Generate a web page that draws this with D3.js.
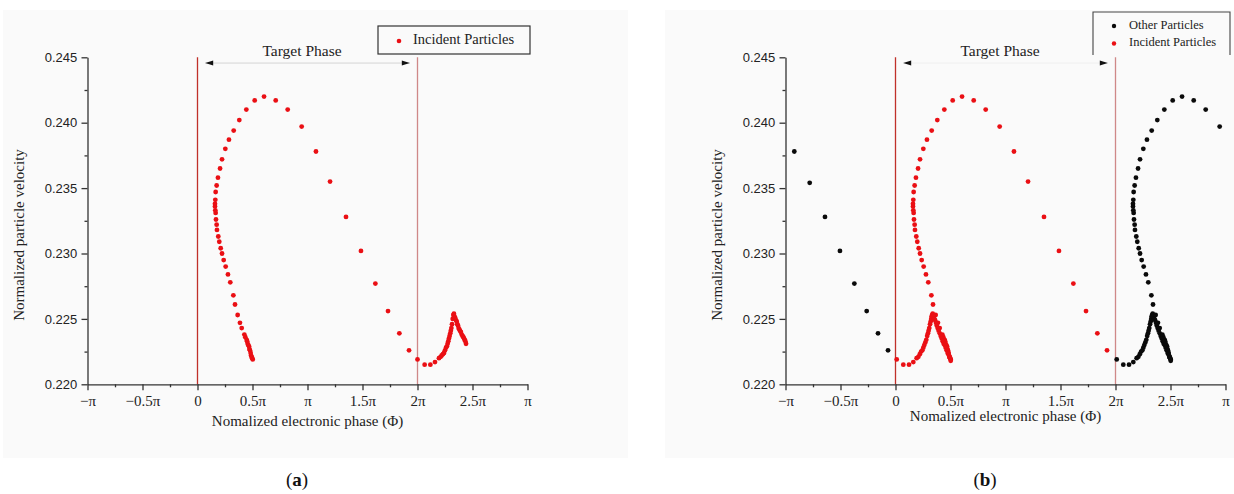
<!DOCTYPE html>
<html>
<head>
<meta charset="utf-8">
<script src="https://cdn.jsdelivr.net/npm/d3@7"></script>
<style>
  body { margin: 0; background: #fff; }
  svg { display: block; }
</style>
</head>
<body>
<svg width="1234" height="494"></svg>
<script>
// x values are phases in units of pi
const phaseTicks = [-1, -0.5, 0, 0.5, 1, 1.5, 2, 2.5, 3];
const phaseLabels = ["−π", "−0.5π", "0", "0.5π", "π", "1.5π", "2π", "2.5π", "π"];
const phaseMinor = [-0.75, -0.25, 0.25, 0.75, 1.25, 1.75, 2.25, 2.75];
const velocityTicks = [0.220, 0.225, 0.230, 0.235, 0.240, 0.245];
const velocityMinor = [0.2225, 0.2275, 0.2325, 0.2375, 0.2425];
const targetPhase = [0, 2];

// big arc of the incident bunch (same in both panels)
const arcPhase = [0.502, 0.497, 0.492, 0.487, 0.483, 0.477, 0.472, 0.468, 0.462, 0.456, 0.451, 0.447,
  0.435, 0.426, 0.402, 0.386, 0.365, 0.341, 0.326, 0.298, 0.277, 0.256, 0.238, 0.223, 0.211, 0.198,
  0.189, 0.177, 0.174, 0.168, 0.165, 0.162, 0.159, 0.159, 0.162, 0.165, 0.174, 0.186, 0.205, 0.223,
  0.253, 0.286, 0.329, 0.380, 0.444, 0.520, 0.605, 0.711, 0.820, 0.947, 1.077, 1.205, 1.350, 1.486,
  1.617, 1.732, 1.835, 1.923];
const arcVelocity = [0.2219, 0.2220, 0.2221, 0.2222, 0.2224, 0.2226, 0.2227, 0.2229, 0.2230, 0.2231, 0.2233, 0.2234,
  0.2236, 0.2238, 0.2243, 0.2247, 0.2253, 0.2261, 0.2268, 0.2278, 0.2284, 0.2290, 0.2295, 0.2300, 0.2304, 0.2309,
  0.2313, 0.2318, 0.2322, 0.2326, 0.2331, 0.2333, 0.2336, 0.2338, 0.2341, 0.2347, 0.2352, 0.2358, 0.2365, 0.2372,
  0.2380, 0.2387, 0.2394, 0.2402, 0.2410, 0.2417, 0.2420, 0.2417, 0.2410, 0.2397, 0.2378, 0.2355, 0.2328, 0.2302,
  0.2277, 0.2256, 0.2239, 0.2226];

// panel (a): cusp past 2pi
const cuspPhaseA = [2.000, 2.065, 2.117, 2.159, 2.195, 2.210, 2.220, 2.231, 2.241, 2.250, 2.259, 2.267, 2.274,
  2.280, 2.286, 2.292, 2.298, 2.303, 2.308, 2.314, 2.320, 2.326, 2.331, 2.335, 2.342, 2.350, 2.356, 2.362,
  2.368, 2.374, 2.380, 2.386, 2.394, 2.402, 2.410, 2.417, 2.423, 2.429, 2.435, 2.441];
const cuspVelocityA = [0.2219, 0.2215, 0.2215, 0.2217, 0.2220, 0.2221, 0.2222, 0.2223, 0.2224, 0.2226, 0.2228, 0.2229, 0.2231,
  0.2233, 0.2235, 0.2237, 0.2239, 0.2241, 0.2243, 0.2246, 0.2250, 0.2253, 0.2254, 0.2252, 0.2251, 0.2249, 0.2248, 0.2246,
  0.2245, 0.2243, 0.2242, 0.2241, 0.2240, 0.2238, 0.2237, 0.2236, 0.2235, 0.2234, 0.2233, 0.2231];

// panel (b): cusp wrapped back to 0
const cuspPhaseB = [0.011, 0.071, 0.123, 0.162, 0.192, 0.208, 0.221, 0.233, 0.244, 0.253, 0.262, 0.271, 0.280,
  0.288, 0.295, 0.301, 0.307, 0.314, 0.320, 0.325, 0.329, 0.334, 0.338, 0.342, 0.346, 0.353, 0.360, 0.368,
  0.375, 0.383, 0.392, 0.402, 0.411, 0.420, 0.429, 0.438, 0.447, 0.456, 0.465, 0.474, 0.482, 0.489, 0.496, 0.502];
const cuspVelocityB = [0.2219, 0.2215, 0.2215, 0.2217, 0.2220, 0.2221, 0.2223, 0.2225, 0.2226, 0.2228, 0.2230, 0.2232, 0.2234,
  0.2237, 0.2239, 0.2241, 0.2243, 0.2246, 0.2248, 0.2250, 0.2252, 0.2253, 0.2254, 0.2253, 0.2252, 0.2250, 0.2249, 0.2247,
  0.2245, 0.2243, 0.2241, 0.2239, 0.2237, 0.2235, 0.2233, 0.2231, 0.2230, 0.2228, 0.2226, 0.2224, 0.2223, 0.2221, 0.2220, 0.2218];

// panel (b): other particles
const otherTailPhase = [-0.920, -0.780, -0.641, -0.505, -0.374, -0.262, -0.159, -0.068];
const otherTailVelocity = [0.2378, 0.2354, 0.2328, 0.2302, 0.2277, 0.2256, 0.2239, 0.2226];
const otherCuspPhase = [2.011, 2.071, 2.123, 2.162, 2.192, 2.208, 2.221, 2.233, 2.244, 2.253, 2.262, 2.271, 2.280,
  2.288, 2.295, 2.301, 2.307, 2.314, 2.320, 2.325, 2.329, 2.334, 2.338, 2.342, 2.346, 2.353, 2.360, 2.368,
  2.375, 2.383, 2.392, 2.402, 2.411, 2.420, 2.429, 2.438, 2.447, 2.456, 2.465, 2.474, 2.482, 2.489, 2.496, 2.502];
const otherCuspVelocity = [0.2219, 0.2215, 0.2215, 0.2217, 0.2220, 0.2221, 0.2223, 0.2225, 0.2226, 0.2228, 0.2230, 0.2232, 0.2234,
  0.2237, 0.2239, 0.2241, 0.2243, 0.2246, 0.2248, 0.2250, 0.2252, 0.2253, 0.2254, 0.2253, 0.2252, 0.2250, 0.2249, 0.2247,
  0.2245, 0.2243, 0.2241, 0.2239, 0.2237, 0.2235, 0.2233, 0.2231, 0.2230, 0.2228, 0.2226, 0.2224, 0.2223, 0.2221, 0.2220, 0.2218];
const otherArcPhase = [2.502, 2.497, 2.492, 2.487, 2.483, 2.477, 2.472, 2.468, 2.462, 2.456, 2.451, 2.447,
  2.435, 2.426, 2.402, 2.386, 2.365, 2.341, 2.326, 2.298, 2.277, 2.256, 2.238, 2.223, 2.211, 2.198,
  2.189, 2.177, 2.174, 2.168, 2.165, 2.162, 2.159, 2.159, 2.162, 2.165, 2.174, 2.186, 2.205, 2.223,
  2.253, 2.286, 2.329, 2.380, 2.444, 2.520, 2.605, 2.711, 2.820, 2.947];
const otherArcVelocity = [0.2219, 0.2220, 0.2221, 0.2222, 0.2224, 0.2226, 0.2227, 0.2229, 0.2230, 0.2231, 0.2233, 0.2234,
  0.2236, 0.2238, 0.2243, 0.2247, 0.2253, 0.2261, 0.2268, 0.2278, 0.2284, 0.2290, 0.2295, 0.2300, 0.2304, 0.2309,
  0.2313, 0.2318, 0.2322, 0.2326, 0.2331, 0.2333, 0.2336, 0.2338, 0.2341, 0.2347, 0.2352, 0.2358, 0.2365, 0.2372,
  0.2380, 0.2387, 0.2394, 0.2402, 0.2410, 0.2417, 0.2420, 0.2417, 0.2410, 0.2397];

const RED = "#ea0f14";
const BLACK = "#0a0a0a";
const serif = "'Liberation Serif', 'Times New Roman', serif";
const sans = "'Liberation Sans', Arial, sans-serif";

const zip = (xs, ys) => xs.map((x, i) => ({ x, y: ys[i] }));

const svg = d3.select("svg");

// paper-like backgrounds
svg.append("rect").attr("x", 3).attr("y", 10).attr("width", 625).attr("height", 448).attr("fill", "#fafafa");
svg.append("rect").attr("x", 665).attr("y", 10).attr("width", 569).attr("height", 448).attr("fill", "#fafafa");

function drawPanel(left, series, opts) {
  const x = d3.scaleLinear().domain([-1, 3]).range([left, left + 440]);
  const y = d3.scaleLinear().domain([0.220, 0.245]).range([384.3, 57.3]);
  const g = svg.append("g");

  // target phase boundaries
  g.selectAll("line.bound")
    .data(targetPhase)
    .join("line")
    .attr("x1", (d) => x(d)).attr("x2", (d) => x(d))
    .attr("y1", y(0.245)).attr("y2", y(0.220))
    .attr("stroke", (d, i) => (i === 0 ? "#c0302a" : "#cf8888"))
    .attr("stroke-width", 1.3);

  // axes
  const xAxis = g.append("g").attr("transform", `translate(0,${y(0.220)})`)
    .call(d3.axisBottom(x).tickValues(phaseTicks).tickFormat((d, i) => phaseLabels[i]).tickSize(6).tickSizeOuter(0));
  g.append("g").attr("transform", `translate(0,${y(0.220)})`)
    .call(d3.axisBottom(x).tickValues(phaseMinor).tickFormat("").tickSize(3).tickSizeOuter(0))
    .select(".domain").remove();
  const yAxis = g.append("g").attr("transform", `translate(${x(-1)},0)`)
    .call(d3.axisLeft(y).tickValues(velocityTicks).tickFormat(d3.format(".3f")).tickSize(6).tickSizeOuter(0));
  g.append("g").attr("transform", `translate(${x(-1)},0)`)
    .call(d3.axisLeft(y).tickValues(velocityMinor).tickFormat("").tickSize(3).tickSizeOuter(0))
    .select(".domain").remove();

  g.selectAll(".domain, .tick line").attr("stroke", "#333").attr("stroke-width", 1.3);
  xAxis.selectAll(".tick text").attr("font-family", serif).attr("font-size", 15).attr("fill", "#222").attr("dy", "0.85em");
  yAxis.selectAll(".tick text").attr("font-family", sans).attr("font-size", 13).attr("fill", "#222").attr("dx", "-0.1em");

  // axis titles
  g.append("text")
    .attr("transform", `translate(${left - 67},${235}) rotate(-90)`)
    .attr("text-anchor", "middle").attr("dominant-baseline", "middle")
    .attr("font-family", serif).attr("font-size", 15).attr("fill", "#222")
    .text("Normalized particle velocity");
  g.append("text")
    .attr("x", x(1)).attr("y", opts.xTitleY)
    .attr("text-anchor", "middle").attr("dominant-baseline", "middle")
    .attr("font-family", serif).attr("font-size", 15).attr("fill", "#222")
    .text("Nomalized electronic phase (Φ)");

  // target phase arrow
  const ay = y(0.24456);
  g.append("line")
    .attr("x1", x(0.07)).attr("x2", x(1.93)).attr("y1", ay).attr("y2", ay)
    .attr("stroke", opts.arrowLine).attr("stroke-width", 1);
  const head = [
    { tip: x(0.07), dir: -1 },
    { tip: x(1.93), dir: 1 }
  ];
  g.selectAll("path.head")
    .data(head)
    .join("path")
    .attr("d", (d) => `M${d.tip},${ay} L${d.tip - d.dir * 8},${ay - 2.5} L${d.tip - d.dir * 8},${ay + 2.5} Z`)
    .attr("fill", "#111");
  g.append("text")
    .attr("x", x(0.95)).attr("y", 56)
    .attr("text-anchor", "middle")
    .attr("font-family", serif).attr("font-size", 15.5).attr("fill", "#222")
    .text("Target Phase");

  // particles
  series.forEach((s) => {
    g.append("g")
      .selectAll("circle")
      .data(s.points)
      .join("circle")
      .attr("cx", (d) => x(d.x))
      .attr("cy", (d) => y(d.y))
      .attr("r", 2.4)
      .attr("fill", s.color);
  });

  // panel caption
  const cap = g.append("text")
    .attr("x", opts.capX).attr("y", 486)
    .attr("text-anchor", "middle")
    .attr("font-family", serif).attr("font-size", 19).attr("fill", "#111");
  cap.append("tspan").text("(");
  cap.append("tspan").attr("font-weight", "bold").text(opts.cap);
  cap.append("tspan").text(")");
}

drawPanel(87.5, [
  { color: RED, points: zip(arcPhase, arcVelocity).concat(zip(cuspPhaseA, cuspVelocityA)) }
], { xTitleY: 423, arrowLine: "#d4d4d4", capX: 297, cap: "a" });

drawPanel(785.5, [
  { color: BLACK, points: zip(otherTailPhase, otherTailVelocity)
      .concat(zip(otherCuspPhase, otherCuspVelocity), zip(otherArcPhase, otherArcVelocity)) },
  { color: RED, points: zip(arcPhase, arcVelocity).concat(zip(cuspPhaseB, cuspVelocityB)) }
], { xTitleY: 418, arrowLine: "#efefef", capX: 985, cap: "b" });

// legends
const legA = svg.append("g");
legA.append("rect").attr("x", 378).attr("y", 26).attr("width", 152).attr("height", 28)
  .attr("fill", "none").attr("stroke", "#333").attr("stroke-width", 1.2);
legA.append("circle").attr("cx", 399).attr("cy", 41).attr("r", 2.3).attr("fill", RED);
legA.append("text").attr("x", 413).attr("y", 41).attr("dominant-baseline", "middle")
  .attr("font-family", serif).attr("font-size", 14.5).attr("fill", "#222").text("Incident Particles");

const legendB = [
  { label: "Other Particles", color: BLACK },
  { label: "Incident Particles", color: RED }
];
const legB = svg.append("g");
legB.append("path").attr("d", "M1093,55 V12 H1230 V55")
  .attr("fill", "none").attr("stroke", "#444").attr("stroke-width", 1.1);
legB.selectAll("circle")
  .data(legendB)
  .join("circle")
  .attr("cx", 1114).attr("cy", (d, i) => 26 + i * 17.5)
  .attr("r", 2.2).attr("fill", (d) => d.color);
legB.selectAll("text")
  .data(legendB)
  .join("text")
  .attr("x", 1129).attr("y", (d, i) => 26 + i * 17.5)
  .attr("dominant-baseline", "middle")
  .attr("font-family", serif).attr("font-size", 12.5).attr("fill", "#222")
  .text((d) => d.label);
</script>
</body>
</html>
